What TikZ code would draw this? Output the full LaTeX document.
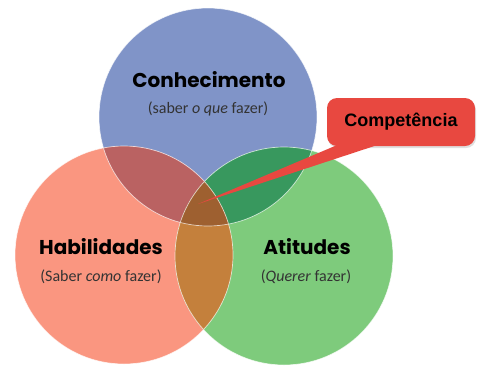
\documentclass[tikz,border=0pt]{standalone}
\usepackage{fontspec}
\setmainfont{Carlito}
\newfontfamily\titlefont{Poppins}
\newfontfamily\balaofont{Liberation Sans}
\usetikzlibrary{shadows}

\definecolor{azul}{RGB}{128,148,200}
\definecolor{salmao}{RGB}{250,150,128}
\definecolor{verde}{RGB}{126,203,124}
\definecolor{azulsalmao}{RGB}{186,98,98}
\definecolor{azulverde}{RGB}{56,152,94}
\definecolor{salmaoverde}{RGB}{196,128,60}
\definecolor{centro}{RGB}{158,96,48}
\definecolor{vermelho}{RGB}{232,72,64}

\tikzset{
  circulo/.style={circle,minimum size=218pt,inner sep=0pt},
  titulo/.style={font=\titlefont\bfseries\fontsize{20}{24}\selectfont},
  subtitulo/.style={font=\fontsize{16}{19}\selectfont,text=black!80},
  balao/.style={rounded corners=10pt,fill=vermelho,minimum width=148pt,minimum height=48pt,
    font=\balaofont\bfseries\fontsize{18}{21}\selectfont,
    drop shadow={opacity=0.25,shadow xshift=1pt,shadow yshift=-2pt}}
}

\begin{document}
\begin{tikzpicture}[x=1pt,y=-1pt]
        \useasboundingbox (0,0) rectangle (479,365);
        %% Circles
        \node[circulo,fill=azul] (conhec) at (208,117) {};
        \node[circulo,fill=salmao] (habil) at (124,255) {};
        \node[circulo,fill=verde] (atit) at (284,256) {};
        %% Overlaps
        \begin{scope}
            \clip (conhec.center) circle (109pt);
            \fill[azulsalmao] (habil.center) circle (109pt);
            \fill[azulverde] (atit.center) circle (109pt);
        \end{scope}
        \begin{scope}
            \clip (habil.center) circle (109pt);
            \fill[salmaoverde] (atit.center) circle (109pt);
            \clip (atit.center) circle (109pt);
            \fill[centro] (conhec.center) circle (109pt);
        \end{scope}
        \draw[white,opacity=0.7,line width=0.7pt] (conhec.center) circle (109pt)
            (habil.center) circle (109pt) (atit.center) circle (109pt);
        %% Labels
        \node[titulo] (tconhec) at (209,80) {Conhecimento};
        \node[subtitulo] (sconhec) at (208,109) {(saber \textit{o que} fazer)};
        \node[titulo] (thabil) at (101,247) {Habilidades};
        \node[subtitulo] (shabil) at (101,277) {(Saber \textit{como} fazer)};
        \node[titulo] (tatit) at (307,247) {Atitudes};
        \node[subtitulo] (satit) at (306,277) {(\textit{Querer} fazer)};
        %% Callout
        \node[balao] (comp) at (401,122) {Compet\^encia};
        \coordinate (ponta) at (198,204);
        \fill[vermelho] ([xshift=10pt,yshift=1pt]comp.south west) -- (ponta)
            -- ([xshift=50pt,yshift=1pt]comp.south west) -- cycle;
    \end{tikzpicture}
\end{document}
